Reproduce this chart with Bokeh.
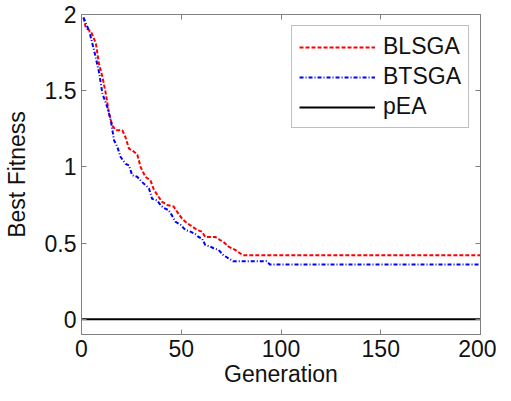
from bokeh.plotting import figure
from bokeh.models import Range1d, LinearAxis, FixedTicker, Legend, LegendItem
from bokeh.embed import file_html
from bokeh.resources import INLINE

# ---- data ----
blsga_gen = [1, 2.2, 4.7, 7.2, 8.8, 10.5, 12.2, 13.8, 15.5, 17.2, 20.5, 22, 23.8, 26.3, 28, 29.6,
             32, 34.6, 36.3, 38.8, 40.4, 42.9, 46.2, 47.9, 50.4, 52.9, 55.4, 57.9, 60.4, 62, 67,
             69.5, 71, 73.7, 77, 79.5, 81.1, 200]
blsga_fit = [1.98, 1.91, 1.89, 1.81, 1.675, 1.59, 1.48, 1.35, 1.27, 1.24, 1.24, 1.196, 1.12, 1.10, 1.08, 1.0,
             0.935, 0.91, 0.85, 0.80, 0.77, 0.75, 0.74, 0.706, 0.66, 0.63, 0.61, 0.586, 0.575, 0.54, 0.54,
             0.52, 0.51, 0.477, 0.455, 0.433, 0.42, 0.42]

btsga_gen = [1, 3.9, 6.4, 8.8, 10.5, 13, 14.7, 16.3, 18, 19.6, 22.1, 23.8, 25.4, 27.9, 30.4, 32.1,
             33.8, 35.4, 37.9, 39.6, 41.2, 43.7, 45.4, 47.1, 49.6, 52.1, 54.6, 57, 58.7, 60.4, 62,
             64.5, 66.2, 68.7, 71.2, 73.7, 76.1, 92.8, 94.4, 200]
btsga_fit = [1.98, 1.89, 1.76, 1.62, 1.48, 1.39, 1.305, 1.175, 1.13, 1.065, 1.02, 1.01, 0.945, 0.935, 0.90, 0.88,
             0.86, 0.79, 0.78, 0.75, 0.73, 0.716, 0.68, 0.64, 0.62, 0.586, 0.575, 0.56, 0.54, 0.53, 0.488,
             0.477, 0.466, 0.455, 0.42, 0.40, 0.38, 0.38, 0.36, 0.36]

pea_gen = [0, 200]
pea_fit = [0, 0]

x_ticks = [0, 50, 100, 150, 200]
y_ticks = [0, 0.5, 1, 1.5, 2]
y_tick_labels = ["0", "0.5", "1", "1.5", "2"]

FONT = "Liberation Sans"
FS = "23px"
AXC = "#808080"
TXT = "#111111"

p = figure(width=496, height=393, output_backend="svg", toolbar_location=None,
           x_range=Range1d(0, 200), y_range=Range1d(-0.1, 2),
           min_border_left=79, min_border_right=16, min_border_top=14, min_border_bottom=59)
p.grid.visible = False
p.outline_line_color = AXC
p.outline_line_width = 1
p.background_fill_color = "white"

r1 = p.line(blsga_gen, blsga_fit, line_color="#ff0000", line_width=2, line_dash="4 2")
r2 = p.line(btsga_gen, btsga_fit, line_color="#0000ff", line_width=2, line_dash="4 2 1 2")
r3 = p.line(pea_gen, pea_fit, line_color="black", line_width=2)

def style(ax, ticks, show_labels=True):
    ax.ticker = FixedTicker(ticks=ticks)
    ax.axis_line_color = AXC
    ax.major_tick_line_color = AXC
    ax.major_tick_in = 5
    ax.major_tick_out = 0
    ax.minor_tick_line_color = None
    ax.major_label_text_font = FONT
    if show_labels:
        ax.major_label_text_font_size = FS
        ax.major_label_text_color = TXT
    else:
        ax.major_label_text_font_size = "0px"
        ax.major_label_text_color = None
        ax.major_label_standoff = 0
    ax.axis_label_text_font = FONT
    ax.axis_label_text_font_size = FS
    ax.axis_label_text_font_style = "normal"
    ax.axis_label_text_color = TXT

style(p.xaxis[0], x_ticks)
style(p.yaxis[0], y_ticks)
p.yaxis[0].major_label_overrides = {t: l for t, l in zip(y_ticks, y_tick_labels)}
p.yaxis[0].axis_label = "Best Fitness"
p.yaxis[0].axis_label_standoff = 12
p.yaxis[0].major_label_standoff = 5
p.xaxis[0].axis_label = "Generation"
p.xaxis[0].major_label_standoff = 5
p.xaxis[0].axis_label_standoff = 1

top_ax = LinearAxis()
style(top_ax, x_ticks, show_labels=False)
p.add_layout(top_ax, "above")
right_ax = LinearAxis()
style(right_ax, y_ticks, show_labels=False)
p.add_layout(right_ax, "right")

legend = Legend(items=[LegendItem(label="BLSGA", renderers=[r1]),
                       LegendItem(label="BTSGA", renderers=[r2]),
                       LegendItem(label="pEA", renderers=[r3])],
                location="top_right")
legend.label_text_font = FONT
legend.label_text_font_size = FS
legend.label_text_color = TXT
legend.glyph_width = 76
legend.glyph_height = 22
legend.label_height = 22
legend.label_standoff = 8
legend.padding = 7
legend.spacing = 3
legend.margin = 11
legend.border_line_color = AXC
legend.border_line_width = 1.5
legend.background_fill_alpha = 1
p.add_layout(legend)

open("out.html", "w").write(file_html(p, INLINE))
